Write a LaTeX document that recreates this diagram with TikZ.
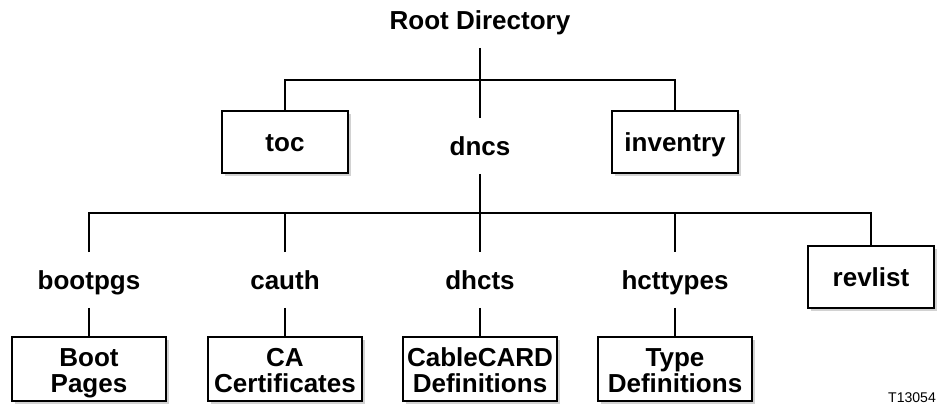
\documentclass[tikz,border=0pt]{standalone}
\usepackage{fontspec}
\setmainfont{Liberation Sans}
\usetikzlibrary{shadows}
\tikzset{%
  % Specifications for style of nodes:
            base/.style = {inner sep=2pt, align=center,
                           font=\fontsize{18.5}{18}\selectfont\bfseries},
         oneline/.style = {text height=15pt, text depth=2pt},
         dirname/.style = {base, oneline, minimum height=1.35cm},
          dirbox/.style = {base, oneline, rectangle, draw=black, fill=white,
                           line width=1.2pt, minimum height=1.55cm,
                           minimum width=3.15cm,
                           drop shadow={shadow xshift=0.07cm,
                           shadow yshift=-0.07cm, fill=black!35}},
          docbox/.style = {base, rectangle, draw=black, fill=white,
                           text height=35pt, text depth=2pt,
                           line width=1.2pt, minimum height=1.6cm,
                           minimum width=3.85cm,
                           drop shadow={shadow xshift=0.07cm,
                           shadow yshift=-0.07cm, fill=black!35}},
}

\begin{document}
\begin{tikzpicture}[x=0.025cm, y=-0.025cm, line width=1.2pt]
  \useasboundingbox (0,0) rectangle (938,407);
  % Nodes of the first level
  \node (root)     [dirname] at (480,20)  {Root Directory};
  \node (toc)      [dirbox]  at (285,142) {toc};
  \node (dncs)     [dirname] at (480,146) {dncs};
  \node (inventry) [dirbox]  at (675,142) {inventry};
  % Nodes of the second level
  \node (bootpgs)  [dirname] at (89,280)  {bootpgs};
  \node (cauth)    [dirname] at (285,280) {cauth};
  \node (dhcts)    [dirname] at (480,280) {dhcts};
  \node (hcttypes) [dirname] at (675,280) {hcttypes};
  \node (revlist)  [dirbox]  at (871,277) {revlist};
  % Files under the directories
  \node (bootpages) [docbox] at (89,369)  {Boot\\Pages};
  \node (cacerts)   [docbox] at (285,369) {CA\\Certificates};
  \node (ccdefs)    [docbox] at (480,369) {CableCARD\\Definitions};
  \node (typedefs)  [docbox] at (675,369) {Type\\Definitions};
  \node (fignum) [font=\fontsize{10}{12}\selectfont] at (912,398) {T13054};

  % Lines between the nodes
  \coordinate (topbar) at (480,80);
  \coordinate (midbar) at (480,213);
  \draw (root) -- (dncs);
  \draw (toc) |- (topbar) -| (inventry);
  \draw (dncs) -- (dhcts);
  \draw (bootpgs) |- (midbar) -| (revlist);
  \draw (cauth) |- (midbar) -| (hcttypes);
  \draw (bootpgs) -- (bootpages);
  \draw (cauth) -- (cacerts);
  \draw (dhcts) -- (ccdefs);
  \draw (hcttypes) -- (typedefs);
\end{tikzpicture}
\end{document}
